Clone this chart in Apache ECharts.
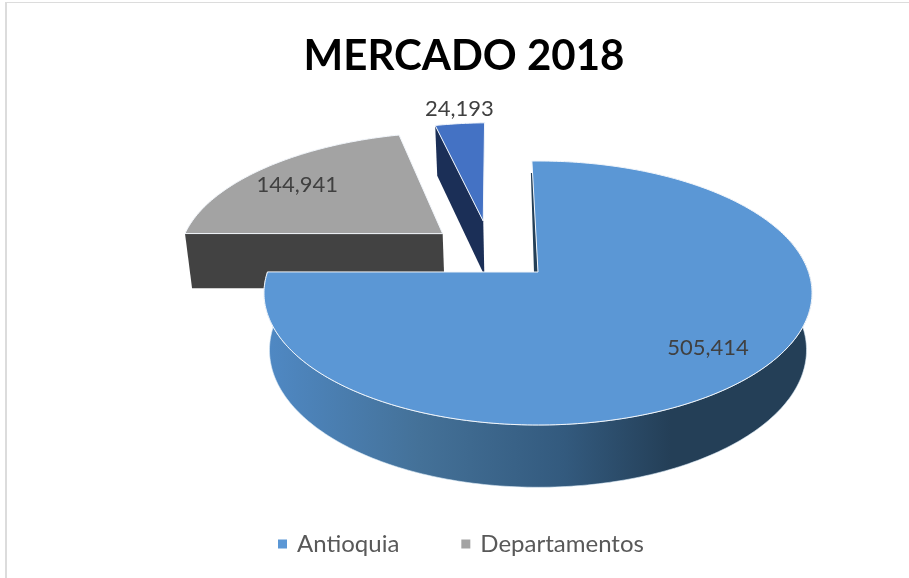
<!DOCTYPE html>
<html>
<head>
<meta charset="utf-8">
<style>
  html, body { margin: 0; padding: 0; background: #fff; }
  #chart { width: 909px; height: 578px; }
</style>
<script src="https://cdn.jsdelivr.net/npm/echarts@6/dist/echarts.min.js"></script>
</head>
<body>
<div id="chart"></div>
<script>
const categories = ["Antioquia", "Departamentos", "Otros"]
const values = [505414, 144941, 24193]
const valueLabels = ["505,414", "144,941", "24,193"]
const legendNames = ["Antioquia", "Departamentos"]
const topColors = ["#5b97d5", "#a3a3a3", "#4472c4"]
const wallColors = ["#243f57", "#424242", "#1b2f57"]
const drawOrder = [1, 2, 0]

// 各扇区的爆炸偏移（单位圆坐标）和标签位置
const explode = [[0, 0], [-0.37, -0.313], [-0.216, -0.422]]
const labelRadius = [0.79, 0.77, 1.175]
const labelTurn = [-1.5, -3, -0.8]

// 透视参数
const cx = 538, cy = 293, rx = 274, ry = 132, p = -0.159
const q = Math.sqrt(1 - p * p)
const baseCy = 350, baseScaleX = 0.98, baseScaleY = 1.04

const total = values.reduce((a, b) => a + b, 0)

function angleRange(i) {
  let sum = 0
  for (let k = 0; k < i; k++) sum += values[k]
  return [(sum / total) * 360, ((sum + values[i]) / total) * 360]
}

// 视角修正：起点略向左，左侧切口保持水平
function viewAngle(deg) {
  const s = Math.sin((deg * Math.PI) / 360)
  return deg - 1.5 + 3.6 * s * s
}

// 圆盘坐标 -> 顶面像素
function project(u, v) {
  const w = 1 + p * v
  return [cx + (rx * u * q) / w, cy + (ry * (v + p)) / w]
}

function polarRaw(i, deg, r) {
  const a = (deg * Math.PI) / 180
  return project(explode[i][0] + r * Math.sin(a), explode[i][1] - r * Math.cos(a))
}

function polar(i, deg, r) {
  return polarRaw(i, viewAngle(deg), r)
}

// 顶面像素 -> 底面像素
function toBase(pt) {
  return [cx + (pt[0] - cx) * baseScaleX, baseCy + (pt[1] - cy) * baseScaleY]
}

function rim(i, from, to) {
  const pts = []
  const n = Math.ceil(Math.abs(to - from))
  for (let k = 0; k <= n; k++) pts.push(polar(i, from + ((to - from) * k) / n, 1))
  return pts
}

function renderSlice(i) {
  return function () {
    const range = angleRange(i)
    const apex = polar(i, 0, 0)
    const edge = rim(i, range[0], range[1])
    const children = []

    if (i === 0) {
      // 主扇区外侧壁
      const front = rim(i, 70, range[1])
      children.push({
        type: "polygon",
        shape: { points: front.concat(front.map(toBase).reverse()) },
        style: {
          fill: new echarts.graphic.LinearGradient(270, 0, 805, 0, [
            { offset: 0, color: "#4f88c3" },
            { offset: 0.28, color: "#447198" },
            { offset: 0.55, color: "#335a7e" },
            { offset: 0.75, color: "#243f57" },
            { offset: 1, color: "#243f57" }
          ], true),
          stroke: "#dcebf7",
          lineWidth: 0.6
        }
      })
      // 切口处的暗色细条
      const s = polar(i, range[0], 1)
      children.push({
        type: "polygon",
        shape: { points: [[s[0] - 1, s[1] + 12], [s[0] + 1, s[1] + 12], [apex[0], apex[1]], [apex[0] - 4, apex[1]]] },
        style: { fill: wallColors[0] }
      })
    } else {
      const s = edge[0]
      children.push({
        type: "polygon",
        shape: { points: [s, apex, toBase(apex), toBase(s)] },
        style: { fill: wallColors[i] }
      })
    }

    children.push({
      type: "polygon",
      shape: { points: [apex].concat(edge) },
      style: { fill: topColors[i], stroke: "#f2f6fb", lineWidth: 1 }
    })

    const mid = (range[0] + range[1]) / 2
    const lp = polarRaw(i, mid + labelTurn[i], labelRadius[i])
    children.push({
      type: "text",
      style: {
        text: valueLabels[i],
        x: lp[0],
        y: lp[1],
        align: "center",
        verticalAlign: "middle",
        fill: "#404040",
        fontFamily: "Lato",
        fontSize: 22
      }
    })
    return { type: "group", children: children }
  }
}

const chart = echarts.init(document.getElementById("chart"))

chart.setOption({
  animation: false,
  backgroundColor: "#ffffff",
  title: {
    text: "MERCADO 2018",
    left: 459,
    top: 30,
    textAlign: "center",
    textStyle: { fontFamily: "Lato", fontWeight: "bold", fontSize: 42, color: "#000000" }
  },
  legend: {
    data: legendNames,
    left: 273,
    top: 527,
    icon: "rect",
    itemWidth: 9,
    itemHeight: 9,
    itemGap: 62,
    textStyle: { fontFamily: "Lato", fontSize: 24, color: "#595959", padding: [0, 0, 0, 5] }
  },
  graphic: [
    { type: "rect", shape: { x: 5, y: 2, width: 904, height: 1 }, style: { fill: "#dcdcdc" }, silent: true },
    { type: "rect", shape: { x: 5, y: 2, width: 2, height: 576 }, style: { fill: "#dcdcdc" }, silent: true }
  ],
  series: drawOrder.map(function (i) {
    return {
      type: "custom",
      name: categories[i],
      coordinateSystem: "none",
      silent: true,
      itemStyle: { color: topColors[i] },
      renderItem: renderSlice(i),
      data: [values[i]]
    }
  })
})
</script>
</body>
</html>
